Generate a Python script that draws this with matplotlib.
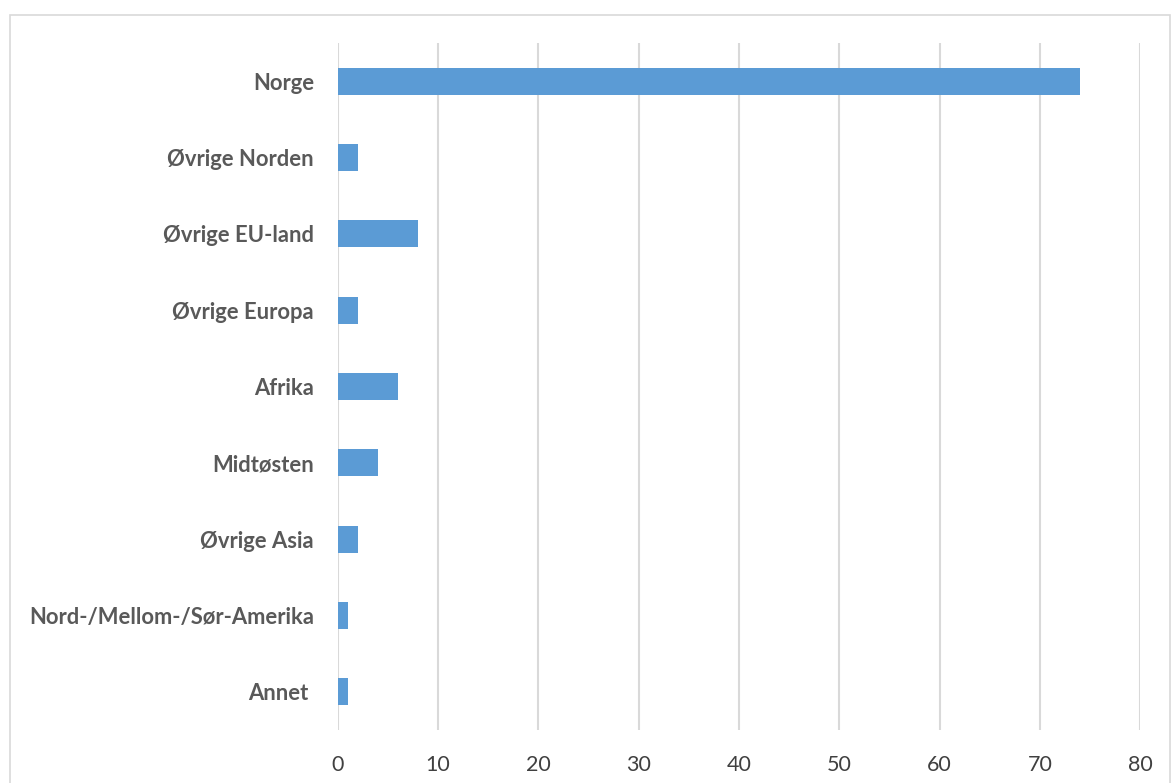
import matplotlib.pyplot as plt
from matplotlib.patches import Rectangle

categories = ['Norge', 'Øvrige Norden', 'Øvrige EU-land', 'Øvrige Europa', 'Afrika',
              'Midtøsten', 'Øvrige Asia', 'Nord-/Mellom-/Sør-Amerika', 'Annet ']
values = [74, 2, 8, 2, 6, 4, 2, 1, 1]
xticks = [0, 10, 20, 30, 40, 50, 60, 70, 80]

plt.rcParams['font.family'] = ['Lato', 'DejaVu Sans']

fig = plt.figure(figsize=(11.71, 7.83), dpi=100)
ax = fig.add_axes([0.2883, 0.0677, 0.6856, 0.8774])

pos = list(range(len(categories)))
ax.barh(pos, values, height=0.355, color='#5B9BD5', zorder=3)
ax.set_ylim(len(categories) - 0.5, -0.5)
ax.set_xlim(0, 80)
ax.set_xticks(xticks)
ax.set_yticks(pos)
ax.set_yticklabels(categories, fontsize=15.8, fontweight='bold', color='#595959')
ax.tick_params(axis='x', length=0, pad=18, labelsize=15.5, labelcolor='#404040')
ax.tick_params(axis='y', length=0, pad=17)
ax.grid(axis='x', color='#D9D9D9', linewidth=1.5, zorder=0)
for s in ax.spines.values():
    s.set_visible(False)

# outer chart border
fig.patches.append(Rectangle((10 / 1171, -0.05), 1160 / 1171, 1.05 - 15 / 783,
                             transform=fig.transFigure, fill=False,
                             edgecolor='#D9D9D9', linewidth=1.2))

fig.savefig('out.png', dpi=100)
